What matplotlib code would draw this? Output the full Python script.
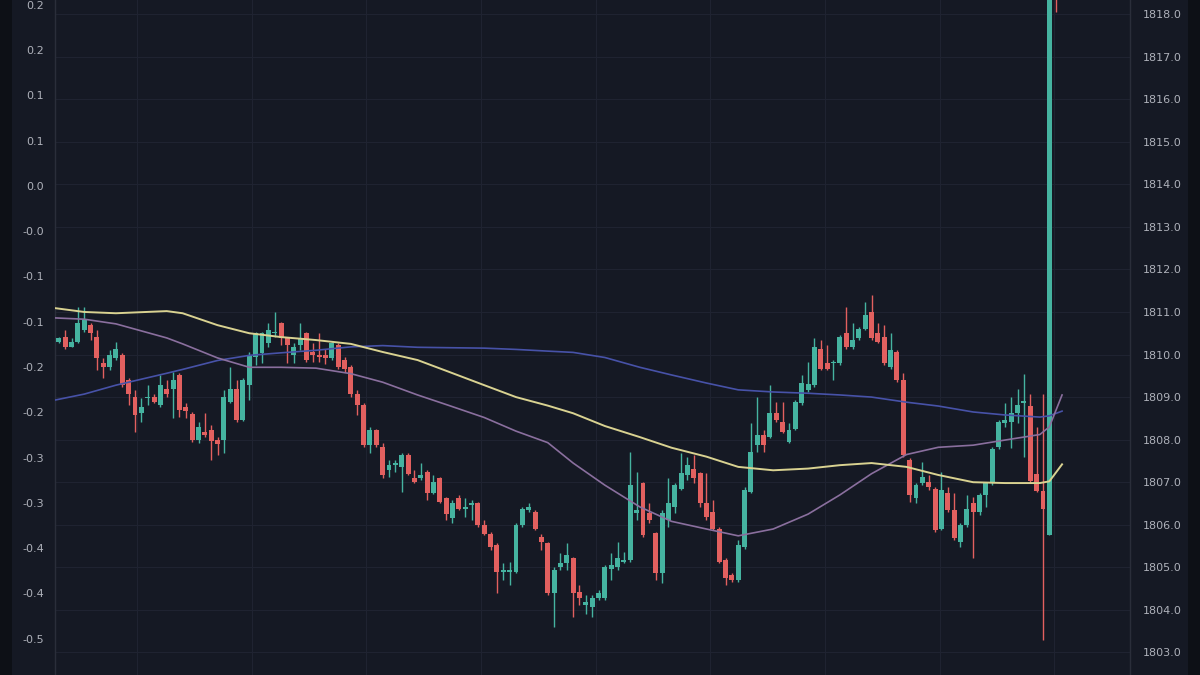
import matplotlib
matplotlib.use("Agg")
import matplotlib.pyplot as plt
from matplotlib.patches import Rectangle

# ---------------- data ----------------
opens = [1810.30, 1810.42, 1810.18, 1810.30, 1810.57, 1810.69, 1810.42, 1809.79, 1809.71, 1809.91,
         1809.99, 1809.40, 1809.01, 1808.62, 1808.97, 1809.01, 1808.81, 1809.20, 1809.20, 1809.52,
         1808.77, 1808.60, 1807.99, 1808.18, 1808.22, 1807.99, 1807.99, 1808.89, 1809.20, 1808.46,
         1809.28, 1809.95, 1810.03, 1810.26, 1810.50, 1810.73, 1810.38, 1809.99, 1810.22, 1810.50,
         1810.06, 1810.00, 1809.99, 1809.91, 1810.22, 1809.87, 1809.71, 1809.08, 1808.81, 1807.87,
         1808.22, 1807.83, 1807.28, 1807.40, 1807.36, 1807.64, 1807.09, 1807.09, 1807.24, 1806.74,
         1807.09, 1806.62, 1806.15, 1806.62, 1806.38, 1806.46, 1806.50, 1805.99, 1805.79, 1805.52,
         1804.89, 1804.89, 1804.89, 1805.99, 1806.34, 1806.30, 1805.72, 1805.56, 1804.39, 1805.01,
         1805.09, 1805.21, 1804.42, 1804.11, 1804.07, 1804.27, 1804.27, 1804.97, 1805.01, 1805.13,
         1805.17, 1806.27, 1806.97, 1806.27, 1805.80, 1804.86, 1806.11, 1806.42, 1806.85, 1807.17,
         1807.32, 1807.21, 1806.50, 1806.30, 1805.91, 1805.17, 1804.82, 1804.70, 1805.48, 1806.78,
         1807.87, 1808.11, 1808.07, 1808.62, 1808.42, 1807.95, 1808.26, 1808.85, 1809.16, 1809.28,
         1810.14, 1809.79, 1809.80, 1809.79, 1810.50, 1810.18, 1810.38, 1810.61, 1811.00, 1810.50,
         1810.42, 1809.71, 1810.07, 1809.40, 1807.52, 1806.62, 1806.97, 1807.01, 1806.85, 1805.91,
         1806.74, 1806.34, 1805.60, 1805.99, 1806.50, 1806.30, 1806.70, 1806.97, 1807.83, 1808.38,
         1808.42, 1808.62, 1808.85, 1808.80, 1807.20, 1806.80, 1805.77, 1818.70]
highs = [1810.42, 1810.57, 1810.38, 1811.12, 1811.12, 1810.73, 1810.57, 1809.91, 1810.10, 1810.30,
         1810.03, 1809.44, 1809.16, 1808.97, 1809.28, 1809.08, 1809.52, 1809.40, 1809.59, 1809.56,
         1808.85, 1808.66, 1808.42, 1808.62, 1808.34, 1808.07, 1809.16, 1809.71, 1809.40, 1809.44,
         1810.06, 1810.53, 1810.53, 1810.73, 1811.00, 1810.77, 1810.42, 1810.26, 1810.73, 1810.53,
         1810.26, 1810.50, 1810.14, 1810.30, 1810.26, 1809.95, 1809.75, 1809.16, 1808.85, 1808.30,
         1808.26, 1807.91, 1807.52, 1807.52, 1807.68, 1807.68, 1807.28, 1807.44, 1807.28, 1807.17,
         1807.13, 1806.66, 1806.58, 1806.70, 1806.62, 1806.58, 1806.54, 1806.11, 1805.83, 1805.56,
         1805.09, 1805.13, 1806.03, 1806.42, 1806.50, 1806.34, 1805.79, 1805.60, 1805.01, 1805.33,
         1805.56, 1805.25, 1804.58, 1804.35, 1804.35, 1804.46, 1805.05, 1805.33, 1805.60, 1805.36,
         1807.71, 1807.25, 1807.01, 1806.50, 1805.83, 1806.34, 1807.09, 1806.97, 1807.68, 1807.60,
         1807.64, 1807.25, 1807.21, 1806.58, 1805.95, 1805.21, 1804.86, 1805.64, 1806.89, 1808.38,
         1809.01, 1808.22, 1809.28, 1808.89, 1808.89, 1808.38, 1808.93, 1809.52, 1809.83, 1810.38,
         1810.34, 1810.22, 1809.87, 1810.46, 1811.12, 1810.73, 1810.65, 1811.24, 1811.40, 1810.73,
         1810.69, 1810.50, 1810.10, 1809.56, 1807.56, 1806.97, 1807.48, 1807.17, 1806.89, 1807.25,
         1806.89, 1806.74, 1806.03, 1806.70, 1806.66, 1806.74, 1807.01, 1807.83, 1808.46, 1808.85,
         1809.00, 1809.20, 1809.55, 1809.08, 1808.30, 1809.08, 1819.00, 1819.20]
lows = [1810.26, 1810.14, 1810.17, 1810.26, 1810.53, 1810.34, 1809.63, 1809.44, 1809.63, 1809.87,
        1809.24, 1808.81, 1808.18, 1808.42, 1808.81, 1808.85, 1808.77, 1809.01, 1808.50, 1808.54,
        1808.50, 1807.95, 1807.93, 1808.07, 1807.52, 1807.64, 1807.68, 1808.85, 1808.42, 1808.44,
        1808.93, 1809.75, 1809.79, 1810.18, 1810.42, 1810.22, 1809.79, 1809.79, 1810.10, 1809.83,
        1809.83, 1809.83, 1809.77, 1809.87, 1809.67, 1809.59, 1809.01, 1808.58, 1807.83, 1807.68,
        1807.83, 1807.09, 1807.13, 1807.24, 1806.77, 1807.17, 1806.97, 1807.05, 1806.58, 1806.72,
        1806.50, 1806.11, 1806.03, 1806.34, 1806.19, 1806.11, 1805.95, 1805.76, 1805.40, 1804.39,
        1804.70, 1804.58, 1804.86, 1805.95, 1806.30, 1805.87, 1805.40, 1804.35, 1803.60, 1804.93,
        1804.93, 1803.84, 1804.11, 1803.91, 1803.84, 1804.23, 1804.23, 1804.70, 1804.93, 1805.09,
        1805.13, 1806.11, 1805.72, 1806.03, 1804.70, 1804.62, 1805.95, 1806.27, 1806.81, 1807.05,
        1806.97, 1806.42, 1806.11, 1805.87, 1805.09, 1804.58, 1804.66, 1804.66, 1805.44, 1806.74,
        1807.71, 1807.71, 1808.03, 1808.42, 1808.15, 1807.91, 1808.22, 1808.81, 1809.12, 1809.24,
        1809.63, 1809.63, 1809.40, 1809.75, 1810.14, 1810.14, 1810.34, 1810.57, 1810.34, 1810.26,
        1809.75, 1809.67, 1809.36, 1807.60, 1806.54, 1806.50, 1806.93, 1806.81, 1805.83, 1805.87,
        1806.30, 1805.64, 1805.48, 1805.95, 1805.21, 1806.23, 1806.42, 1806.93, 1807.79, 1808.30,
        1807.80, 1808.38, 1807.60, 1806.98, 1806.78, 1803.29, 1805.75, 1818.05]
closes = [1810.38, 1810.18, 1810.30, 1810.73, 1810.81, 1810.50, 1809.91, 1809.70, 1809.99, 1810.14,
          1809.28, 1809.08, 1808.58, 1808.77, 1809.01, 1808.89, 1809.28, 1809.08, 1809.40, 1808.69,
          1808.68, 1807.99, 1808.30, 1808.11, 1807.97, 1807.89, 1809.01, 1809.20, 1808.46, 1809.40,
          1809.99, 1810.50, 1810.50, 1810.57, 1810.53, 1810.38, 1810.22, 1810.18, 1810.38, 1809.87,
          1809.99, 1809.95, 1809.91, 1810.26, 1809.71, 1809.67, 1809.08, 1808.81, 1807.87, 1808.22,
          1807.87, 1807.17, 1807.40, 1807.44, 1807.64, 1807.20, 1807.01, 1807.17, 1806.74, 1807.01,
          1806.54, 1806.26, 1806.50, 1806.38, 1806.42, 1806.50, 1805.99, 1805.79, 1805.48, 1804.89,
          1804.93, 1804.93, 1805.99, 1806.38, 1806.42, 1805.91, 1805.60, 1804.39, 1804.93, 1805.09,
          1805.29, 1804.39, 1804.27, 1804.19, 1804.27, 1804.39, 1805.01, 1805.05, 1805.21, 1805.17,
          1806.93, 1806.34, 1805.76, 1806.11, 1804.86, 1806.27, 1806.50, 1806.93, 1807.21, 1807.40,
          1807.09, 1806.50, 1806.19, 1805.91, 1805.13, 1804.74, 1804.70, 1805.52, 1806.81, 1807.71,
          1808.11, 1807.87, 1808.62, 1808.46, 1808.18, 1808.22, 1808.89, 1809.32, 1809.30, 1810.18,
          1809.67, 1809.67, 1809.83, 1810.42, 1810.18, 1810.34, 1810.61, 1810.93, 1810.38, 1810.30,
          1809.79, 1810.10, 1809.40, 1807.64, 1806.70, 1806.93, 1807.13, 1806.89, 1805.87, 1806.81,
          1806.34, 1805.68, 1805.99, 1806.38, 1806.30, 1806.70, 1806.97, 1807.79, 1808.42, 1808.46,
          1808.62, 1808.81, 1808.90, 1807.02, 1806.80, 1806.38, 1818.90, 1818.50]

# moving averages, sampled along the bar index
ma_idx = [-0.6, 4, 9, 17, 19.5, 25, 30, 35, 40.5, 46, 51, 56.5, 61.5, 67, 72, 77, 81, 86,
          91.5, 96.5, 102, 107, 112.5, 118, 123, 128, 133.5, 138.5, 144, 149, 154.5, 156, 158]
ma_yellow = [1811.09, 1811.00, 1810.97, 1811.02, 1810.97, 1810.69, 1810.50, 1810.41, 1810.34,
             1810.25, 1810.06, 1809.87, 1809.59, 1809.28, 1809.00, 1808.80, 1808.62, 1808.32,
             1808.06, 1807.81, 1807.60, 1807.36, 1807.28, 1807.32, 1807.40, 1807.45, 1807.36,
             1807.17, 1807.00, 1806.98, 1806.98, 1807.02, 1807.42]
ma_purple = [1810.86, 1810.83, 1810.72, 1810.39, 1810.25, 1809.92, 1809.70, 1809.70, 1809.68,
             1809.55, 1809.35, 1809.05, 1808.80, 1808.52, 1808.20, 1807.93, 1807.45, 1806.93,
             1806.42, 1806.08, 1805.90, 1805.74, 1805.90, 1806.25, 1806.70, 1807.20, 1807.65,
             1807.82, 1807.87, 1807.99, 1808.12, 1808.30, 1809.05]
ma_blue = [1808.93, 1809.07, 1809.28, 1809.56, 1809.65, 1809.86, 1809.98, 1810.04, 1810.10,
           1810.18, 1810.21, 1810.17, 1810.16, 1810.15, 1810.12, 1810.08, 1810.05, 1809.93,
           1809.70, 1809.52, 1809.33, 1809.17, 1809.12, 1809.09, 1809.05, 1809.00, 1808.88,
           1808.79, 1808.65, 1808.58, 1808.53, 1808.56, 1808.67]

price_ticks = [1803.0, 1804.0, 1805.0, 1806.0, 1807.0, 1808.0, 1809.0, 1810.0, 1811.0,
               1812.0, 1813.0, 1814.0, 1815.0, 1816.0, 1817.0, 1818.0]
left_vals = [0.20, 0.15, 0.10, 0.05, 0.00, -0.05, -0.10, -0.15, -0.20, -0.25, -0.30,
             -0.35, -0.40, -0.45, -0.50]
left_labels = ["0.2", "0.2", "0.1", "0.1", "0.0", "-0.0", "-0.1", "-0.1", "-0.2", "-0.2",
               "-0.3", "-0.3", "-0.4", "-0.4", "-0.5"]
vgrid = [12.3, 30.4, 48.4, 66.5, 84.6, 102.6, 120.7, 138.8, 156.8]

# ---------------- style ----------------
BG = "#151924"
STRIP = "#0d1016"
GRID = "#1f2331"
SPINE = "#2a2e3a"
TXT = "#aeb1ba"
UP = "#45b3a0"
DOWN = "#e2605f"

fig = plt.figure(figsize=(12, 6.75), dpi=100, facecolor=BG)
fig.patches.append(Rectangle((0, 0), 12 / 1200, 1, transform=fig.transFigure,
                             facecolor=STRIP, edgecolor="none", zorder=0))
fig.patches.append(Rectangle((1188 / 1200, 0), 12 / 1200, 1, transform=fig.transFigure,
                             facecolor=STRIP, edgecolor="none", zorder=0))

ax = fig.add_axes([55 / 1200, 0, 1075 / 1200, 1])
ax.set_facecolor(BG)

xs = list(range(len(opens)))
cols = [UP if c >= o else DOWN for o, c in zip(opens, closes)]
bottoms = [min(o, c) for o, c in zip(opens, closes)]
heights = [max(abs(c - o), 0.035) for o, c in zip(opens, closes)]

ax.vlines(xs, lows, highs, colors=cols, linewidth=1.0, zorder=3)
ax.bar(xs, heights, bottom=bottoms, width=0.78, color=cols, linewidth=0, zorder=4)

ax.plot(ma_idx, ma_blue, color="#4752a8", lw=1.2, zorder=5)
ax.plot(ma_idx, ma_purple, color="#8a6f9e", lw=1.2, zorder=5)
ax.plot(ma_idx, ma_yellow, color="#d9d291", lw=1.4, zorder=5)

ax.set_xlim(-0.6, 168.7)
ax.set_ylim(1802.47, 1818.33)
ax.set_xticks(vgrid)
ax.tick_params(axis="x", length=0, labelbottom=False)
ax.grid(True, color=GRID, lw=0.8, zorder=0)
ax.set_axisbelow(True)
for s in ("top", "bottom"):
    ax.spines[s].set_visible(False)
for s in ("left", "right"):
    ax.spines[s].set_color(SPINE)
    ax.spines[s].set_linewidth(1.0)

# secondary (left) scale
ax2 = ax.twinx()
ax2.set_ylim(-0.5403, 0.2055)
ax2.yaxis.tick_left()
ax2.set_yticks(left_vals)
ax2.set_yticklabels(left_labels)
ax2.tick_params(axis="y", length=0, pad=8, labelcolor=TXT, labelsize=8)
for s in ax2.spines.values():
    s.set_visible(False)
ax2.grid(False)

# price scale on the right (after twinx, which resets it)
ax.yaxis.tick_right()
ax.set_yticks(price_ticks)
ax.set_yticklabels([f"{v:.1f}" for v in price_ticks])
ax.tick_params(axis="y", length=0, pad=9, labelcolor=TXT, labelsize=8)

fig.savefig("out.png", dpi=100, facecolor=BG)
